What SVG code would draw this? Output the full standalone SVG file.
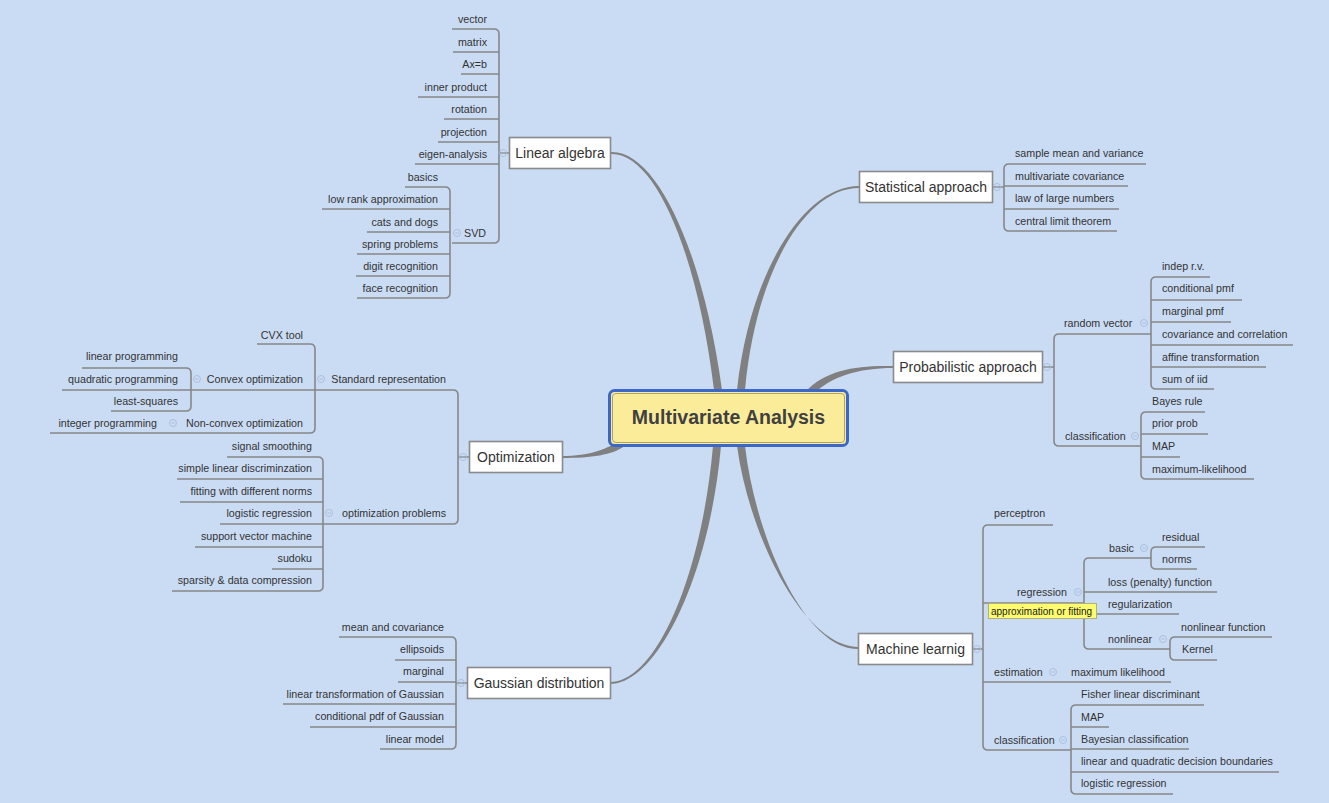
<svg xmlns="http://www.w3.org/2000/svg" width="1329" height="803" viewBox="0 0 1329 803">
<style>
.t{font-family:"Liberation Sans",Arial,sans-serif;font-size:10.7px;fill:#333}
.e{text-anchor:end}
.m{font-family:"Liberation Sans",Arial,sans-serif;font-size:14px;fill:#333;text-anchor:middle}
.box{fill:#fff;stroke:#8a8a8a;stroke-width:1.6}
.ln{fill:none;stroke:#878787;stroke-width:1.6}
.br{fill:#808080}
.col circle{fill:none;stroke:#a6bcdb;stroke-width:0.9}
.col path{stroke:#a6bcdb;stroke-width:0.9}
</style>
<defs>
<g id="c" class="col"><circle r="3.5"/><path d="M-1.8,0H1.8"/></g>
</defs>
<rect width="1329" height="803" fill="#cadcf4"/>

<g id="connectors">
<path class="br" d="M610,152 C656,149 703,250 722,390 L714,390 C697,250 654,151 610,154 Z"/>
<path class="br" d="M859,186 C805,186 750,270 737,390 L745,390 C756,270 806,188 859,188 Z"/>
<path class="br" d="M893,366 C857,365 826,370 806,391 L815,393 C831,377 858,368 893,368 Z"/>
<path class="br" d="M562,456 C590,456 605,449 616,443 L625,446 C612,455 592,458 562,458 Z"/>
<path class="br" d="M610,682 C655,682 701,580 713,446 L721,446 C709,580 656,684 610,684 Z"/>
<path class="br" d="M858,647 C805,646 750,540 737,446 L745,446 C756,540 806,650 858,649 Z"/>

<path class="ln" d="M452,29H494Q499,29 499,34V238Q499,243 494,243H452M453,52H499M461,74H499M418,97H499M444,119H499M438,142H499M415,164H499M499,153H510"/>
<path class="ln" d="M405,187H445Q450,187 450,192V293Q450,298 445,298H357M322,209H450M367,232H450M357,254H450M356,276H450"/>
<path class="ln" d="M315,390H453Q458,390 458,395V519Q458,524 453,524H323M458,457H469"/>
<path class="ln" d="M257,344H310Q315,344 315,349V428Q315,433 310,433H50M191,390H315"/>
<path class="ln" d="M82,368H186Q191,368 191,373V406Q191,411 186,411H111M62,390H191"/>
<path class="ln" d="M227,457H318Q323,457 323,462V586Q323,591 318,591H172M177,479H323M180,502H323M220,524H323M195,547H323M272,569H323"/>
<path class="ln" d="M339,637H451Q456,637 456,642V744Q456,749 451,749H380M395,660H456M398,682H456M283,704H456M310,727H456M456,683H467"/>
<path class="ln" d="M1146,164H1009Q1004,164 1004,169V226Q1004,231 1009,231H1117M1004,186H1128M1004,209H1119M992,187H1004"/>
<path class="ln" d="M1151,334H1059Q1054,334 1054,339V441Q1054,446 1059,446H1141M1043,367H1054"/>
<path class="ln" d="M1210,277H1156Q1151,277 1151,282V384Q1151,389 1156,389H1214M1151,300H1242M1151,322H1231M1151,345H1293M1151,367H1266"/>
<path class="ln" d="M1205,412H1146Q1141,412 1141,417V474Q1141,479 1146,479H1254M1141,434H1208M1141,457H1180"/>
<path class="ln" d="M1053,525H988Q983,525 983,530V745Q983,750 988,750H1071M972,649H983M983,603H1084M983,682H1171"/>
<path class="ln" d="M1151,558H1089Q1084,558 1084,563V644Q1084,649 1089,649H1170M1084,592H1217M1084,614H1179"/>
<path class="ln" d="M1205,547H1156Q1151,547 1151,552V564Q1151,569 1156,569H1197"/>
<path class="ln" d="M1272,637H1175Q1170,637 1170,642V655Q1170,660 1175,660H1217"/>
<path class="ln" d="M1204,705H1076Q1071,705 1071,710V789Q1071,794 1076,794H1173M1071,727H1109M1071,749H1189M1071,772H1279"/>

<use href="#c" x="503" y="153"/><use href="#c" x="457" y="233"/>
<use href="#c" x="463" y="457"/><use href="#c" x="321" y="379"/><use href="#c" x="197" y="379"/><use href="#c" x="173" y="423"/><use href="#c" x="329" y="513"/>
<use href="#c" x="461" y="683"/><use href="#c" x="997" y="187"/>
<use href="#c" x="1047" y="367"/><use href="#c" x="1144" y="323"/><use href="#c" x="1135" y="436"/>
<use href="#c" x="977" y="649"/><use href="#c" x="1078" y="592"/><use href="#c" x="1144" y="548"/><use href="#c" x="1163" y="639"/><use href="#c" x="1053" y="672"/><use href="#c" x="1063" y="740"/>
</g>

<g id="center">
<rect x="609.5" y="390.5" width="238" height="55" rx="5" fill="#fbec9a" stroke="#3b68c8" stroke-width="3"/>
<rect x="612.5" y="393.5" width="232" height="49" rx="3.5" fill="none" stroke="#a8a27a" stroke-width="1"/>
<text x="728.5" y="424" style="font-family:'Liberation Sans',Arial,sans-serif;font-size:19.5px;font-weight:bold;fill:#404040;text-anchor:middle">Multivariate Analysis</text>
</g>

<g id="linear-algebra">
<rect class="box" x="509.5" y="137.5" width="101" height="31"/>
<text class="m" x="560" y="158">Linear algebra</text>
<text class="t e" x="487" y="23">vector</text>
<text class="t e" x="487" y="46">matrix</text>
<text class="t e" x="487" y="68">Ax=b</text>
<text class="t e" x="487" y="91">inner product</text>
<text class="t e" x="487" y="113">rotation</text>
<text class="t e" x="487" y="136">projection</text>
<text class="t e" x="487" y="158">eigen-analysis</text>
<text class="t e" x="486" y="237">SVD</text>
<text class="t e" x="438" y="181">basics</text>
<text class="t e" x="438" y="203">low rank approximation</text>
<text class="t e" x="438" y="226">cats and dogs</text>
<text class="t e" x="438" y="248">spring problems</text>
<text class="t e" x="438" y="270">digit recognition</text>
<text class="t e" x="438" y="292">face recognition</text>
</g>

<g id="optimization">
<rect class="box" x="469.5" y="441.5" width="93" height="31"/>
<text class="m" x="516" y="462">Optimization</text>
<text class="t e" x="446" y="383">Standard representation</text>
<text class="t e" x="303" y="339">CVX tool</text>
<text class="t e" x="303" y="383">Convex optimization</text>
<text class="t e" x="303" y="427">Non-convex optimization</text>
<text class="t e" x="178" y="360">linear programming</text>
<text class="t e" x="178" y="383">quadratic programming</text>
<text class="t e" x="178" y="405">least-squares</text>
<text class="t e" x="157" y="427">integer programming</text>
<text class="t e" x="446" y="517">optimization problems</text>
<text class="t e" x="312" y="450">signal smoothing</text>
<text class="t e" x="312" y="472">simple linear discriminzation</text>
<text class="t e" x="312" y="495">fitting with different norms</text>
<text class="t e" x="312" y="517">logistic regression</text>
<text class="t e" x="312" y="540">support vector machine</text>
<text class="t e" x="312" y="562">sudoku</text>
<text class="t e" x="312" y="584">sparsity &amp; data compression</text>
</g>

<g id="gaussian">
<rect class="box" x="467.5" y="667.5" width="143" height="31"/>
<text class="m" x="539" y="688">Gaussian distribution</text>
<text class="t e" x="444" y="631">mean and covariance</text>
<text class="t e" x="444" y="653">ellipsoids</text>
<text class="t e" x="444" y="675">marginal</text>
<text class="t e" x="444" y="698">linear transformation of Gaussian</text>
<text class="t e" x="444" y="720">conditional pdf of Gaussian</text>
<text class="t e" x="444" y="743">linear model</text>
</g>

<g id="statistical">
<rect class="box" x="859.5" y="171.5" width="133" height="31"/>
<text class="m" x="926" y="192">Statistical approach</text>
<text class="t" x="1015" y="157">sample mean and variance</text>
<text class="t" x="1015" y="180">multivariate covariance</text>
<text class="t" x="1015" y="202">law of large numbers</text>
<text class="t" x="1015" y="225">central limit theorem</text>
</g>

<g id="probabilistic">
<rect class="box" x="893.5" y="351.5" width="149" height="31"/>
<text class="m" x="968" y="372">Probabilistic approach</text>
<text class="t" x="1064" y="327">random vector</text>
<text class="t" x="1162" y="270">indep r.v.</text>
<text class="t" x="1162" y="292">conditional pmf</text>
<text class="t" x="1162" y="315">marginal pmf</text>
<text class="t" x="1162" y="338">covariance and correlation</text>
<text class="t" x="1162" y="361">affine transformation</text>
<text class="t" x="1162" y="383">sum of iid</text>
<text class="t" x="1065" y="440">classification</text>
<text class="t" x="1152" y="405">Bayes rule</text>
<text class="t" x="1152" y="427">prior prob</text>
<text class="t" x="1152" y="450">MAP</text>
<text class="t" x="1152" y="473">maximum-likelihood</text>
</g>

<g id="machine-learning">
<rect class="box" x="858.5" y="633.5" width="114" height="31"/>
<text class="m" x="915.5" y="654">Machine learnig</text>
<text class="t" x="994" y="517">perceptron</text>
<text class="t" x="1017" y="596">regression</text>
<rect x="988.5" y="603.5" width="108" height="15" fill="#fcfc6e" stroke="#b4b07a" stroke-width="1"/>
<text x="991" y="614.5" style="font-family:'Liberation Sans',Arial,sans-serif;font-size:10px;fill:#222">approximation or fitting</text>
<text class="t" x="1109" y="552">basic</text>
<text class="t" x="1162" y="541">residual</text>
<text class="t" x="1162" y="563">norms</text>
<text class="t" x="1108" y="586">loss (penalty) function</text>
<text class="t" x="1108" y="608">regularization</text>
<text class="t" x="1108" y="643">nonlinear</text>
<text class="t" x="1181" y="631">nonlinear function</text>
<text class="t" x="1182" y="653">Kernel</text>
<text class="t" x="994" y="676">estimation</text>
<text class="t" x="1071" y="676">maximum likelihood</text>
<text class="t" x="994" y="744">classification</text>
<text class="t" x="1081" y="698">Fisher linear discriminant</text>
<text class="t" x="1081" y="721">MAP</text>
<text class="t" x="1081" y="743">Bayesian classification</text>
<text class="t" x="1081" y="765">linear and quadratic decision boundaries</text>
<text class="t" x="1081" y="787">logistic regression</text>
</g>
</svg>
